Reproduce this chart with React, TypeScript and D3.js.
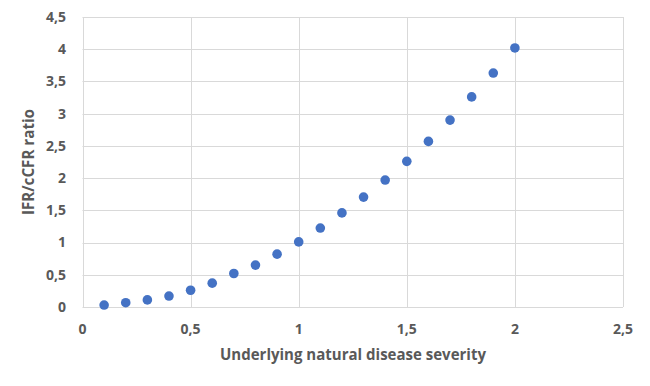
import React, { useEffect, useRef } from 'react';
import * as d3 from 'd3';

// underlying severity vs IFR/cCFR ratio
const severity = [0.1, 0.2, 0.3, 0.4, 0.5, 0.6, 0.7, 0.8, 0.9, 1.0, 1.1, 1.2, 1.3, 1.4, 1.5, 1.6, 1.7, 1.8, 1.9, 2.0];
const ratio = [0.03, 0.067, 0.11, 0.17, 0.26, 0.37, 0.52, 0.65, 0.82, 1.01, 1.225, 1.46, 1.705, 1.97, 2.26, 2.57, 2.9, 3.26, 3.63, 4.02];
const xTicks = [0, 0.5, 1, 1.5, 2, 2.5];
const yTicks = [0, 0.5, 1, 1.5, 2, 2.5, 3, 3.5, 4, 4.5];
const xTitle = 'Underlying natural disease severity';
const yTitle = 'IFR/cCFR ratio';

const W = 650;
const H = 386;
const margin = { top: 17, right: 27, bottom: 79, left: 82.5 };
const font = '"Open Sans", "Noto Sans", sans-serif';
const textColor = '#595959';
const gridColor = '#d9d9d9';
const dotColor = '#4472c4';

const fmt = (v: number) => String(v).replace('.', ',');

function App() {
  const ref = useRef<SVGSVGElement>(null);

  useEffect(() => {
    const svg = d3.select(ref.current);
    svg.selectAll('*').remove();

    const x = d3.scaleLinear().domain([0, 2.5]).range([margin.left, W - margin.right]);
    const y = d3.scaleLinear().domain([0, 4.5]).range([H - margin.bottom, margin.top]);

    svg.append('rect').attr('width', W).attr('height', H).attr('fill', '#fff');

    const grid = svg.append('g');
    grid.selectAll('.hg')
      .data(yTicks)
      .enter().append('line')
      .attr('x1', x(0)).attr('x2', x(2.5))
      .attr('y1', d => Math.round(y(d)) + 0.5).attr('y2', d => Math.round(y(d)) + 0.5)
      .attr('stroke', gridColor).attr('stroke-width', 1);
    grid.selectAll('.vg')
      .data(xTicks)
      .enter().append('line')
      .attr('y1', y(0)).attr('y2', y(4.5))
      .attr('x1', d => Math.round(x(d)) + 0.5).attr('x2', d => Math.round(x(d)) + 0.5)
      .attr('stroke', gridColor).attr('stroke-width', 1);

    svg.append('g').selectAll('text')
      .data(yTicks)
      .enter().append('text')
      .attr('x', 66)
      .attr('y', d => y(d))
      .attr('dy', '0.35em')
      .attr('text-anchor', 'end')
      .attr('font-family', font)
      .attr('font-size', 14)
      .attr('font-weight', 'bold')
      .attr('fill', textColor)
      .text(d => fmt(d));

    svg.append('g').selectAll('text')
      .data(xTicks)
      .enter().append('text')
      .attr('x', d => x(d))
      .attr('y', 334)
      .attr('text-anchor', 'middle')
      .attr('font-family', font)
      .attr('font-size', 14)
      .attr('font-weight', 'bold')
      .attr('fill', textColor)
      .text(d => fmt(d));

    svg.append('text')
      .attr('x', 353)
      .attr('y', 360)
      .attr('text-anchor', 'middle')
      .attr('font-family', font)
      .attr('font-size', 15.5)
      .attr('font-weight', 'bold')
      .attr('fill', textColor)
      .attr('textLength', 266)
      .attr('lengthAdjust', 'spacingAndGlyphs')
      .text(xTitle);

    svg.append('text')
      .attr('transform', `translate(34,162) rotate(-90)`)
      .attr('text-anchor', 'middle')
      .attr('font-family', font)
      .attr('font-size', 15.5)
      .attr('font-weight', 'bold')
      .attr('fill', textColor)
      .attr('textLength', 106)
      .attr('lengthAdjust', 'spacingAndGlyphs')
      .text(yTitle);

    svg.append('g').selectAll('circle')
      .data(severity.map((s, i) => [s, ratio[i]]))
      .enter().append('circle')
      .attr('cx', d => x(d[0]))
      .attr('cy', d => y(d[1]))
      .attr('r', 4.8)
      .attr('fill', dotColor);
  }, []);

  return (
    <div style={{ position: 'absolute', left: 0, top: 0 }}>
      <svg ref={ref} width={W} height={H} style={{ display: 'block' }} />
    </div>
  );
}

export default App;
